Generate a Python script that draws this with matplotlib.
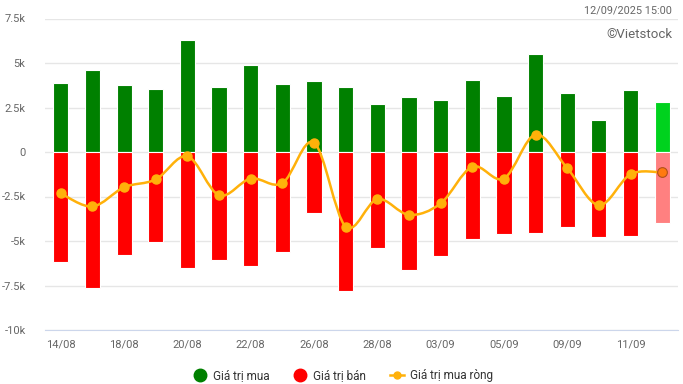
import matplotlib.pyplot as plt
import numpy as np
from matplotlib.path import Path
from matplotlib.patches import PathPatch
from matplotlib.lines import Line2D

plt.rcParams['font.family'] = ['Roboto', 'DejaVu Sans']

# Trading days
dates = ['14/08', '15/08', '18/08', '19/08', '20/08', '21/08', '22/08', '25/08',
         '26/08', '27/08', '28/08', '29/08', '03/09', '04/09', '05/09', '08/09',
         '09/09', '10/09', '11/09', '12/09']

# Values in thousands (k)
buy_values = [3.88, 4.62, 3.77, 3.54, 6.30, 3.65, 4.90, 3.82, 3.99, 3.65,
              2.70, 3.09, 2.92, 4.05, 3.15, 5.52, 3.32, 1.80, 3.49, 2.81]
sell_values = [-6.19, -7.65, -5.81, -5.08, -6.53, -6.08, -6.38, -5.59, -3.44, -7.82,
               -5.37, -6.64, -5.85, -4.90, -4.62, -4.56, -4.22, -4.79, -4.73, -4.00]
net_values = [-2.33, -3.06, -1.98, -1.54, -0.24, -2.43, -1.49, -1.75, 0.53, -4.19,
              -2.65, -3.53, -2.89, -0.83, -1.49, 0.98, -0.91, -2.99, -1.25, -1.15]

yticks = [-10, -7.5, -5, -2.5, 0, 2.5, 5, 7.5]
ytick_labels = ['-10k', '-7.5k', '-5k', '-2.5k', '0', '2.5k', '5k', '7.5k']

fig = plt.figure(figsize=(6.83, 3.84), dpi=100)
ax = fig.add_axes([45 / 683, 1 - 330 / 384, 633 / 683, (330 - 18.5) / 384])

x = np.arange(len(dates))
green = ['#008000'] * (len(x) - 1) + ['#00d21e']
red = ['#ff0000'] * (len(x) - 1) + ['#ff8080']

ax.bar(x, buy_values, width=0.48, color=green, edgecolor='white', linewidth=0.8, zorder=2)
ax.bar(x, sell_values, width=0.48, color=red, edgecolor='white', linewidth=0.8, zorder=2)

# smooth line through net points (cubic bezier, catmull-rom style)
pts = np.column_stack([x, net_values]).astype(float)
verts = [tuple(pts[0])]
codes = [Path.MOVETO]
k = 1 / 6
for i in range(len(pts) - 1):
    p0 = pts[i - 1] if i > 0 else pts[i]
    p1 = pts[i]
    p2 = pts[i + 1]
    p3 = pts[i + 2] if i + 2 < len(pts) else pts[i + 1]
    c1 = p1 + (p2 - p0) * k
    c2 = p2 - (p3 - p1) * k
    verts += [tuple(c1), tuple(c2), tuple(p2)]
    codes += [Path.CURVE4, Path.CURVE4, Path.CURVE4]
ax.add_patch(PathPatch(Path(verts, codes), fill=False, edgecolor='#ffb10a',
                       linewidth=1.8, zorder=3))
ax.plot(x[:-1], net_values[:-1], 'o', color='#ffb10a', markersize=6.5, zorder=4)
ax.plot(x[-1:], net_values[-1:], 'o', color='#ff7a10', markeredgecolor='#b0501a',
        markeredgewidth=0.8, markersize=7, zorder=4)

ax.set_xlim(-0.5, len(x) - 0.5)
ax.set_ylim(-10, 7.5)
ax.set_yticks(yticks)
ax.set_yticklabels(ytick_labels)
ax.set_xticks(x[::2])
ax.set_xticklabels(dates[::2])
ax.tick_params(axis='both', length=0, labelsize=8, colors='#666666')
ax.tick_params(axis='y', pad=14)
ax.tick_params(axis='x', pad=7)
ax.grid(axis='y', color='#e6e6e6', linewidth=1, zorder=0)
ax.set_axisbelow(True)
for side in ['top', 'right', 'left']:
    ax.spines[side].set_visible(False)
ax.spines['bottom'].set_color('#ccd6eb')
ax.spines['bottom'].set_position(('data', -10))

fig.text(672 / 683, 1 - 11 / 384, '12/09/2025 15:00', ha='right', va='center',
         fontsize=7.8, color='#666666')
fig.text(672 / 683, 1 - 34 / 384, '©Vietstock', ha='right', va='center',
         fontsize=9.5, color='#666666')

handles = [
    Line2D([], [], marker='o', linestyle='none', color='#008000', markersize=9),
    Line2D([], [], marker='o', linestyle='none', color='#ff0000', markersize=9),
    Line2D([], [], marker='o', color='#ffb10a', markersize=5, linewidth=1.8),
]
fig.legend(handles, ['Giá trị mua', 'Giá trị bán', 'Giá trị mua ròng'],
           loc='center', bbox_to_anchor=(343 / 683, 1 - 376 / 384), ncol=3,
           frameon=False, fontsize=8.5, labelcolor='#333333', handlelength=1.2,
           columnspacing=2.0, handletextpad=0.5)

fig.savefig('out.png', dpi=100)
